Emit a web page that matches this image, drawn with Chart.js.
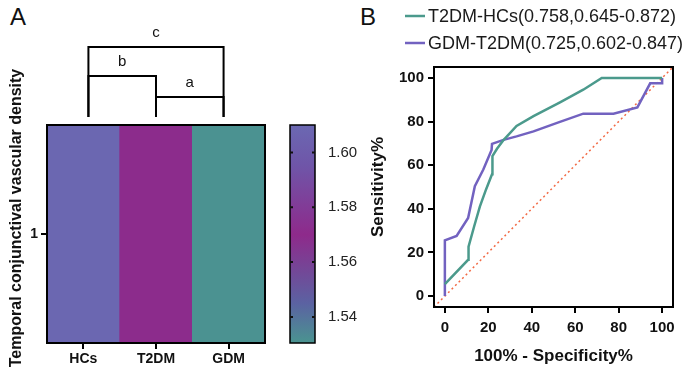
<!DOCTYPE html>
<html>
<head>
<meta charset="utf-8">
<script src="https://cdn.jsdelivr.net/npm/chart.js@4.4.1/dist/chart.umd.min.js"></script>
<style>
  body { margin: 0; background: #fff; width: 694px; height: 373px; overflow: hidden; position: relative;
         font-family: "Liberation Sans", Arial, sans-serif; }
  canvas { position: absolute; }
  .tag { position: absolute; font-size: 24px; color: #111; line-height: normal; }
</style>
</head>
<body>
<div class="tag" style="left:10px;top:3px">A</div>
<div class="tag" style="left:360px;top:3px">B</div>
<canvas id="heat" style="left:0;top:0" width="280" height="373"></canvas>
<canvas id="cbar" style="left:280px;top:0" width="80" height="373"></canvas>
<canvas id="roc" style="left:340px;top:0" width="354" height="373"></canvas>
<script>
// Panel A data
const groups = ['HCs', 'T2DM', 'GDM'];
const densityVals = [1.609, 1.569, 1.531];
const rowLabels = ['1'];
const brackets = [['HCs', 'GDM', 'c'], ['HCs', 'T2DM', 'b'], ['T2DM', 'GDM', 'a']];

// colour scale
const cbarRange = [1.5305, 1.61];
const cbarTicks = [1.54, 1.56, 1.58, 1.60];
const cmapStops = [1.5305, 1.545, 1.57, 1.595, 1.61];
const cmapColors = ['#4a9490', '#5b62a2', '#8e2a8b', '#6f55a8', '#6b68b2'];

// Panel B data (ROC curves)
const rocLabels = ['T2DM-HCs(0.758,0.645-0.872)', 'GDM-T2DM(0.725,0.602-0.847)'];
const fprA = [0, 10.7, 10.9, 13.5, 16.1, 19, 21.7, 21.9, 24, 27, 33, 40.8, 53, 63.7, 72.2, 100];
const tprA = [5.5, 16.6, 22.7, 32, 41, 49, 55.8, 64.2, 67.5, 71.5, 78, 82.5, 88.8, 94.6, 100, 100];
const fprB = [0, 0, 5.4, 10.7, 13.8, 17.7, 21.5, 21.7, 27, 33, 40.8, 52.3, 63.7, 77.6, 88.6, 94.5, 100, 100];
const tprB = [0, 25.5, 27.6, 35.8, 50.4, 58, 67, 69.8, 71.6, 73.2, 75.5, 79.6, 83.6, 83.6, 86.5, 97.5, 97.5, 100];
const chanceLine = [-5, 105];
const rocTicks = [0, 20, 40, 60, 80, 100];

const FONT = '"Liberation Sans", Arial, sans-serif';
Chart.defaults.font.family = FONT;
Chart.defaults.color = '#111';
Chart.defaults.animation = false;

const hexToRgb = h => [1, 3, 5].map(i => parseInt(h.slice(i, i + 2), 16));
const cmap = v => {
  let i = 0;
  while (i < cmapStops.length - 2 && v > cmapStops[i + 1]) i++;
  const t = Math.max(0, Math.min(1, (v - cmapStops[i]) / (cmapStops[i + 1] - cmapStops[i])));
  const a = hexToRgb(cmapColors[i]), b = hexToRgb(cmapColors[i + 1]);
  return 'rgb(' + a.map((c, k) => Math.round(c + (b[k] - c) * t)).join(',') + ')';
};

const frame = {
  id: 'frame',
  afterDraw(chart, args, opts) {
    const { ctx, chartArea: a } = chart;
    ctx.save();
    ctx.strokeStyle = '#000';
    ctx.lineWidth = opts.width || 2;
    ctx.strokeRect(a.left, a.top, a.right - a.left, a.bottom - a.top);
    ctx.restore();
  }
};

const axisTick = {
  display: true, drawOnChartArea: false, drawTicks: true, tickLength: 6, color: '#000', lineWidth: 2
};

// significance brackets above the heatmap
const bracketPlugin = {
  id: 'brackets',
  afterDraw(chart, args, opts) {
    const { ctx, chartArea } = chart;
    const x = chart.scales.x;
    const base = chartArea.top - 8;
    const mid = (chartArea.left + chartArea.right) / 2;
    const px = g => {
      const p = x.getPixelForValue(groups.indexOf(g));
      return p + (mid - p) * opts.pull;
    };
    ctx.save();
    ctx.strokeStyle = '#000';
    ctx.lineWidth = 2;
    ctx.fillStyle = '#111';
    ctx.font = '15px ' + FONT;
    ctx.textAlign = 'center';
    ctx.textBaseline = 'middle';
    brackets.forEach((b, i) => {
      const x1 = px(b[0]), x2 = px(b[1]);
      const yl = base - opts.rise[i];
      ctx.beginPath();
      ctx.moveTo(x1, base); ctx.lineTo(x1, yl); ctx.lineTo(x2, yl); ctx.lineTo(x2, base);
      ctx.stroke();
      ctx.fillText(b[2], (x1 + x2) / 2, yl - 14);
    });
    ctx.restore();
  }
};

const heatTitle = {
  id: 'heatTitle',
  afterDraw(chart) {
    const ctx = chart.ctx;
    ctx.save();
    ctx.translate(17, 218);
    ctx.rotate(-Math.PI / 2);
    ctx.font = 'bold 16px ' + FONT;
    ctx.fillStyle = '#111';
    ctx.textAlign = 'center';
    ctx.textBaseline = 'middle';
    ctx.fillText('Temporal conjunctival vascular density', 0, 0);
    ctx.restore();
  }
};

new Chart(document.getElementById('heat'), {
  type: 'bar',
  data: {
    labels: groups,
    datasets: [{
      data: groups.map(() => [0, 1]),
      backgroundColor: densityVals.map(cmap),
      borderWidth: 0,
      barPercentage: 1,
      categoryPercentage: 1
    }]
  },
  options: {
    responsive: false,
    layout: { padding: { top: 125, right: 15, left: 0, bottom: 0 } },
    plugins: {
      legend: { display: false }, tooltip: { enabled: false },
      brackets: { rise: [70, 41, 20], pull: 0.07 }
    },
    scales: {
      x: {
        grid: Object.assign({}, axisTick, { offset: false }),
        border: { display: false },
        ticks: { font: { size: 14, weight: 'bold' }, padding: 2 },
        afterFit: s => { s.height = 30; }
      },
      y: {
        min: 0, max: 1,
        grid: axisTick,
        border: { display: false },
        afterBuildTicks: s => { s.ticks = [{ value: 0.5 }]; },
        ticks: { font: { size: 14, weight: 'bold' }, padding: 3, callback: () => rowLabels[0] },
        afterFit: s => { s.width = 47; }
      }
    }
  },
  plugins: [frame, bracketPlugin, heatTitle]
});

// colour bar
const cbarMarks = {
  id: 'cbarMarks',
  afterDraw(chart) {
    const { ctx, chartArea: a } = chart;
    const y = chart.scales.y;
    ctx.save();
    ctx.strokeStyle = '#111';
    ctx.lineWidth = 2;
    cbarTicks.forEach(v => {
      const p = y.getPixelForValue(v);
      ctx.beginPath();
      ctx.moveTo(a.left, p); ctx.lineTo(a.left + 3, p);
      ctx.moveTo(a.right - 3, p); ctx.lineTo(a.right, p);
      ctx.stroke();
    });
    ctx.restore();
  }
};

new Chart(document.getElementById('cbar'), {
  type: 'bar',
  data: {
    labels: [''],
    datasets: [{
      data: [cbarRange],
      borderWidth: 0,
      barPercentage: 1,
      categoryPercentage: 1,
      backgroundColor: c => {
        const ch = c.chart;
        if (!ch.chartArea) return cmapColors[2];
        const y = ch.scales.y;
        const y0 = y.getPixelForValue(cbarRange[0]), y1 = y.getPixelForValue(cbarRange[1]);
        const g = ch.ctx.createLinearGradient(0, y0, 0, y1);
        cmapStops.forEach((v, i) => g.addColorStop((v - cbarRange[0]) / (cbarRange[1] - cbarRange[0]), cmapColors[i]));
        return g;
      }
    }]
  },
  options: {
    responsive: false,
    layout: { padding: { top: 125, bottom: 30, left: 10, right: 0 } },
    plugins: { legend: { display: false }, tooltip: { enabled: false }, frame: { width: 1.5 } },
    scales: {
      x: { display: false },
      y: {
        position: 'right',
        min: cbarRange[0], max: cbarRange[1],
        grid: { display: false },
        border: { display: false },
        afterBuildTicks: s => { s.ticks = cbarTicks.map(v => ({ value: v })); },
        ticks: { font: { size: 15 }, color: '#222', padding: 5, callback: v => v.toFixed(2) },
        afterFit: s => { s.width = 45; }
      }
    }
  },
  plugins: [frame, cbarMarks]
});

// ROC panel
const lineLegend = {
  id: 'lineLegend',
  afterDraw(chart, args, opts) {
    const ctx = chart.ctx;
    let y = opts.y;
    chart.data.datasets.forEach(ds => {
      if (!ds.label) return;
      ctx.save();
      ctx.strokeStyle = ds.borderColor;
      ctx.lineWidth = 2.5;
      ctx.beginPath();
      ctx.moveTo(opts.x, y); ctx.lineTo(opts.x + 20, y);
      ctx.stroke();
      ctx.fillStyle = '#1a1a1a';
      ctx.font = '18px ' + FONT;
      ctx.textBaseline = 'middle';
      ctx.fillText(ds.label, opts.x + 23, y + 1);
      ctx.restore();
      y += opts.rowGap;
    });
  }
};

const pts = (xs, ys) => xs.map((x, i) => ({ x: x, y: ys[i] }));

new Chart(document.getElementById('roc'), {
  type: 'scatter',
  data: {
    datasets: [
      { label: rocLabels[0], data: pts(fprA, tprA), showLine: true, borderColor: '#4b9a8c', borderWidth: 2.5, pointRadius: 0 },
      { label: rocLabels[1], data: pts(fprB, tprB), showLine: true, borderColor: '#7262c0', borderWidth: 2.5, pointRadius: 0 },
      { data: pts(chanceLine, chanceLine), showLine: true, borderColor: '#f26a45', borderWidth: 1.5,
        borderDash: [2, 3], pointRadius: 0 }
    ]
  },
  options: {
    responsive: false,
    layout: { padding: { top: 67, right: 21, left: 0, bottom: 0 } },
    plugins: {
      legend: { display: false }, tooltip: { enabled: false },
      lineLegend: { x: 65, y: 16, rowGap: 27 }
    },
    scales: {
      x: {
        type: 'linear', min: -5, max: 105,
        grid: axisTick,
        border: { display: false },
        afterBuildTicks: s => { s.ticks = rocTicks.map(v => ({ value: v })); },
        ticks: { font: { size: 15, weight: 'bold' }, padding: 6 },
        title: { display: true, text: '100% - Specificity%', font: { size: 17, weight: 'bold' }, padding: { top: 6, bottom: 6 } },
        afterFit: s => { s.height = 66; }
      },
      y: {
        type: 'linear', min: -5, max: 105,
        grid: axisTick,
        border: { display: false },
        afterBuildTicks: s => { s.ticks = rocTicks.map(v => ({ value: v })); },
        ticks: { font: { size: 15, weight: 'bold' }, padding: 4 },
        title: { display: true, text: 'Sensitivity%', font: { size: 17, weight: 'bold' }, padding: { top: 28, bottom: 28 } },
        afterFit: s => { s.width = 94; }
      }
    }
  },
  plugins: [frame, lineLegend]
});
</script>
</body>
</html>
